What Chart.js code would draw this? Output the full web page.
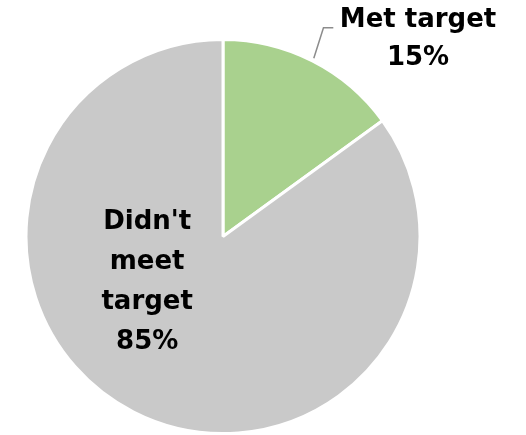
<!DOCTYPE html>
<html>
<head>
<meta charset="utf-8">
<script src="https://cdn.jsdelivr.net/npm/chart.js@4/dist/chart.umd.min.js"></script>
<style>
  html, body { margin: 0; padding: 0; background: #fff; }
  #wrap { width: 526px; height: 435px; }
</style>
</head>
<body>
<div id="wrap"><canvas id="myChart" width="526" height="435"></canvas></div>
<script>
// data
const labels = ["Met target", "Didn't meet target"];
const values = [15, 85];
const colors = ["#a9d18e", "#c9c9c9"];

const labelFont = "bold 26px 'DejaVu Sans', sans-serif";

// draws the two slice labels + leader line
const sliceLabels = {
  id: "sliceLabels",
  afterDatasetsDraw(chart) {
    const ctx = chart.ctx;
    const arcs = chart.getDatasetMeta(0).data;
    const a0 = arcs[0];
    const cx = a0.x, cy = a0.y, r = a0.outerRadius;
    ctx.save();
    ctx.fillStyle = "#000";
    ctx.font = labelFont;
    ctx.textAlign = "center";
    ctx.textBaseline = "middle";

    // met target, outside with leader line
    const mid = (a0.startAngle + a0.endAngle) / 2;
    const sx = cx + Math.cos(mid) * (r + 3);
    const sy = cy + Math.sin(mid) * (r + 3);
    ctx.strokeStyle = "#8c8c8c";
    ctx.lineWidth = 1.5;
    ctx.beginPath();
    ctx.moveTo(sx, sy);
    ctx.lineTo(cx + 0.51 * r, cy - 1.06 * r);
    ctx.lineTo(cx + 0.56 * r, cy - 1.06 * r);
    ctx.stroke();
    const tx = cx + 0.99 * r;
    ctx.fillText(labels[0], tx, cy - 1.1 * r);
    ctx.fillText(values[0] + "%", tx, cy - 0.905 * r);

    // didn't meet target, inside
    const words = ["Didn't", "meet", "target", values[1] + "%"];
    const ix = cx - 0.385 * r;
    let iy = cy - 0.07 * r;
    words.forEach((w) => {
      ctx.fillText(w, ix, iy);
      iy += 40;
    });
    ctx.restore();
  }
};

const config = {
  type: "pie",
  data: {
    labels: labels,
    datasets: [{
      data: values,
      backgroundColor: colors,
      borderColor: "#fff",
      borderWidth: 3
    }]
  },
  options: {
    responsive: false,
    animation: false,
    layout: { padding: { top: 38, bottom: 0, left: 24, right: 104 } },
    plugins: {
      legend: { display: false },
      tooltip: { enabled: false }
    }
  },
  plugins: [sliceLabels]
};

const context = document.getElementById("myChart").getContext("2d");
const chart = new Chart(context, config);
</script>
</body>
</html>
